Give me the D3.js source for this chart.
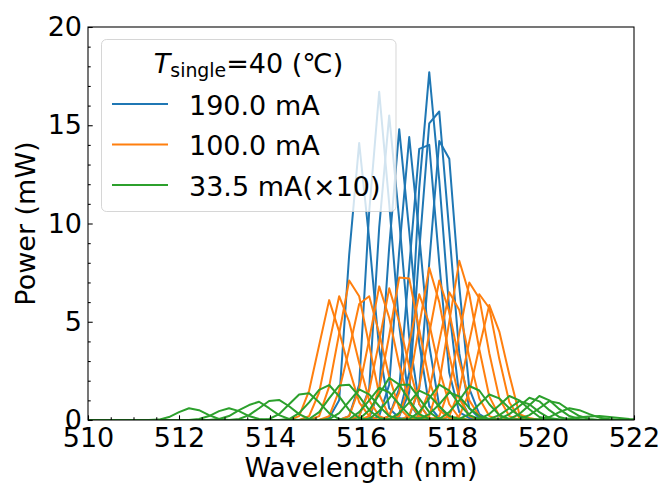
<!DOCTYPE html>
<html>
<head>
<meta charset="utf-8">
<script src="https://cdn.jsdelivr.net/npm/d3@7"></script>
<style>
  html, body { margin: 0; padding: 0; background: #fff; }
  svg { display: block; font-family: "DejaVu Sans", sans-serif; }
</style>
</head>
<body>
<svg id="chart" width="662" height="484"></svg>
<script>
// Sampling grid of the spectrometer (nm)
const wavelengthGrid = [
  510.02, 510.24, 510.46, 510.68, 510.90, 511.12, 511.34, 511.56, 511.78, 512.00,
  512.22, 512.44, 512.66, 512.88, 513.10, 513.32, 513.54, 513.76, 513.98, 514.20,
  514.42, 514.64, 514.86, 515.08, 515.30, 515.52, 515.74, 515.96, 516.18, 516.40,
  516.62, 516.84, 517.06, 517.28, 517.50, 517.72, 517.94, 518.16, 518.38, 518.60,
  518.82, 519.04, 519.26, 519.48, 519.70, 519.92, 520.14, 520.36, 520.58, 520.80,
  521.02, 521.24, 521.46, 521.68, 521.90, 522.12
];

// Each spectrum: first grid index with signal, then power (mW) from there on; zero elsewhere
const spectra190mA = [
  { from: 24, mw: [0.1, 1.0, 8.4, 14.1, 9.2, 3.6, 0.6, 0.1] },
  { from: 26, mw: [0.2, 1.8, 10.6, 16.7, 11.0, 4.8, 0.9, 0.1] },
  { from: 27, mw: [0.2, 1.6, 9.8, 15.5, 10.2, 4.2, 0.8, 0.1] },
  { from: 28, mw: [0.1, 1.5, 8.8, 14.8, 9.6, 3.9, 0.7, 0.1] },
  { from: 29, mw: [0.2, 1.8, 8.6, 14.4, 9.4, 3.8, 0.7, 0.1] },
  { from: 30, mw: [0.2, 1.6, 7.8, 13.8, 14.0, 8.0, 2.4, 0.4, 0.1] },
  { from: 31, mw: [0.3, 2.4, 11.8, 17.7, 12.2, 5.6, 1.2, 0.2] },
  { from: 31, mw: [0.2, 1.4, 8.6, 15.1, 15.7, 9.6, 3.4, 0.6, 0.1] },
  { from: 32, mw: [0.2, 1.6, 8.0, 14.2, 13.3, 6.8, 1.6, 0.3] }
];

const spectra100mA = [
  { from: 21, mw: [0.2, 1.5, 3.8, 6.1, 4.5, 2.6, 0.9, 0.2] },
  { from: 22, mw: [0.2, 1.4, 3.9, 6.3, 5.0, 2.9, 1.0, 0.2] },
  { from: 23, mw: [0.2, 1.7, 4.4, 7.1, 6.3, 3.8, 1.3, 0.2] },
  { from: 24, mw: [0.2, 1.5, 3.6, 5.9, 6.3, 4.4, 2.2, 0.6, 0.1] },
  { from: 26, mw: [0.2, 1.6, 4.1, 6.8, 5.2, 2.8, 0.9, 0.2] },
  { from: 27, mw: [0.2, 1.5, 4.0, 6.7, 5.0, 2.7, 0.8, 0.1] },
  { from: 28, mw: [0.2, 1.6, 4.3, 7.25, 7.2, 4.6, 2.0, 0.5, 0.1] },
  { from: 30, mw: [0.2, 1.4, 3.9, 6.4, 4.9, 2.6, 0.8, 0.1] },
  { from: 31, mw: [0.2, 1.8, 4.8, 7.75, 6.0, 3.3, 1.1, 0.2] },
  { from: 32, mw: [0.2, 1.7, 4.4, 7.1, 5.5, 3.0, 1.0, 0.2] },
  { from: 33, mw: [0.2, 1.5, 4.0, 6.5, 5.6, 3.2, 1.1, 0.2] },
  { from: 34, mw: [0.2, 1.9, 5.0, 8.1, 6.4, 3.6, 1.2, 0.2] },
  { from: 35, mw: [0.2, 1.6, 4.4, 7.0, 6.2, 3.4, 1.1, 0.2] },
  { from: 36, mw: [0.2, 1.5, 4.0, 6.4, 5.7, 3.1, 0.9, 0.1] },
  { from: 37, mw: [0.2, 1.4, 3.7, 5.85, 4.5, 2.3, 0.3, 0.1] }
];

// Values already multiplied by 10
const spectra33mA = [
  { from: 7,  mw: [0.02, 0.15, 0.4, 0.6, 0.5, 0.25, 0.05] },
  { from: 11, mw: [0.05, 0.2, 0.45, 0.6, 0.45, 0.2, 0.05] },
  { from: 13, mw: [0.05, 0.2, 0.5, 0.76, 0.93, 0.6, 0.25, 0.05] },
  { from: 15, mw: [0.05, 0.25, 0.6, 0.97, 1.02, 0.7, 0.3, 0.05] },
  { from: 18, mw: [0.05, 0.3, 0.8, 1.3, 1.36, 0.9, 0.35, 0.05] },
  { from: 20, mw: [0.05, 0.35, 0.9, 1.53, 1.78, 1.2, 0.5, 0.1] },
  { from: 22, mw: [0.05, 0.4, 1.1, 1.75, 1.8, 1.2, 0.5, 0.1] },
  { from: 24, mw: [0.05, 0.35, 0.95, 1.56, 1.3, 0.7, 0.2, 0.05] },
  { from: 26, mw: [0.05, 0.4, 1.0, 1.64, 1.4, 0.8, 0.25, 0.05] },
  { from: 27, mw: [0.05, 0.5, 1.3, 2.15, 1.8, 1.0, 0.3, 0.05] },
  { from: 28, mw: [0.05, 0.45, 1.1, 1.8, 1.8, 1.1, 0.4, 0.05] },
  { from: 30, mw: [0.05, 0.35, 0.9, 1.5, 1.25, 0.7, 0.2, 0.05] },
  { from: 32, mw: [0.05, 0.4, 1.1, 1.8, 1.5, 0.8, 0.25, 0.05] },
  { from: 33, mw: [0.05, 0.3, 0.8, 1.4, 1.2, 0.6, 0.2, 0.05] },
  { from: 35, mw: [0.05, 0.4, 1.0, 1.73, 1.5, 0.8, 0.25, 0.05] },
  { from: 37, mw: [0.05, 0.3, 0.8, 1.3, 1.1, 0.6, 0.2, 0.05] },
  { from: 39, mw: [0.05, 0.3, 0.75, 1.22, 1.0, 0.55, 0.15, 0.05] },
  { from: 40, mw: [0.05, 0.25, 0.6, 0.96, 0.8, 0.4, 0.1, 0.03] },
  { from: 41, mw: [0.05, 0.3, 0.7, 1.13, 0.95, 0.5, 0.15, 0.03] },
  { from: 42, mw: [0.05, 0.3, 0.75, 1.22, 1.0, 0.55, 0.2, 0.05] },
  { from: 43, mw: [0.05, 0.25, 0.6, 0.96, 0.85, 0.5, 0.2, 0.05] },
  { from: 45, mw: [0.05, 0.15, 0.4, 0.6, 0.5, 0.3, 0.12, 0.05] },
  { from: 47, mw: [0.03, 0.08, 0.14, 0.18, 0.2, 0.15, 0.1, 0.05, 0.02] }
];

const seriesLabels = ["190.0 mA", "100.0 mA", "33.5 mA(\u00d710)"];
const seriesColors = ["#1f77b4", "#ff7f0e", "#2ca02c"];
const xMajorTicks = [510, 512, 514, 516, 518, 520, 522];
const yMajorTicks = [0, 5, 10, 15, 20];

const W = 662, H = 484;
const m = { left: 88, right: 28, top: 27, bottom: 64 };
const FS = 27;

const svg = d3.select("#chart");
const x = d3.scaleLinear().domain([510, 522]).range([m.left, W - m.right]);
const y = d3.scaleLinear().domain([0, 20]).range([H - m.bottom, m.top]);

svg.append("defs").append("clipPath").attr("id", "plotClip")
  .append("rect")
  .attr("x", x(510)).attr("y", y(20))
  .attr("width", x(522) - x(510)).attr("height", y(0) - y(20));

// Expand a spectrum onto the full grid
function toPoints(s) {
  return wavelengthGrid.map((w, i) => ({
    w,
    p: (i >= s.from && i < s.from + s.mw.length) ? s.mw[i - s.from] : 0
  }));
}

const line = d3.line().x(d => x(d.w)).y(d => y(d.p));

const plot = svg.append("g").attr("clip-path", "url(#plotClip)");
[spectra190mA, spectra100mA, spectra33mA].forEach((group, gi) => {
  plot.append("g")
    .selectAll("path")
    .data(group)
    .join("path")
    .attr("d", s => line(toPoints(s)))
    .attr("fill", "none")
    .attr("stroke", seriesColors[gi])
    .attr("stroke-width", 2)
    .attr("stroke-linejoin", "round");
});

// Axes with inward ticks
const xMinor = d3.range(0, 25).map(i => 510 + i * 0.5).filter(v => !xMajorTicks.includes(v));
const yMinor = d3.range(0, 21).filter(v => !yMajorTicks.includes(v));

const gx = svg.append("g").attr("transform", `translate(0,${y(0)})`)
  .call(d3.axisBottom(x).tickValues(xMajorTicks).tickFormat(d3.format("d"))
    .tickSizeInner(-4.7).tickSizeOuter(0).tickPadding(8));
svg.append("g").attr("transform", `translate(0,${y(0)})`)
  .call(d3.axisBottom(x).tickValues(xMinor).tickFormat("")
    .tickSizeInner(-2.7).tickSizeOuter(0))
  .call(g => g.select(".domain").remove());

const gy = svg.append("g").attr("transform", `translate(${x(510)},0)`)
  .call(d3.axisLeft(y).tickValues(yMajorTicks).tickFormat(d3.format("d"))
    .tickSizeInner(-4.7).tickSizeOuter(0).tickPadding(6));
svg.append("g").attr("transform", `translate(${x(510)},0)`)
  .call(d3.axisLeft(y).tickValues(yMinor).tickFormat("")
    .tickSizeInner(-2.7).tickSizeOuter(0))
  .call(g => g.select(".domain").remove());

svg.selectAll(".tick line").attr("stroke", "#000").attr("stroke-width", 1.07);
svg.selectAll(".domain").remove();
[gx, gy].forEach(g => g.selectAll(".tick text")
  .attr("font-size", FS).attr("font-family", "DejaVu Sans").attr("fill", "#000"));

// Frame
svg.append("rect")
  .attr("x", x(510)).attr("y", y(20))
  .attr("width", x(522) - x(510)).attr("height", y(0) - y(20))
  .attr("fill", "none").attr("stroke", "#000").attr("stroke-width", 1.07);

// Axis titles
svg.append("text")
  .attr("x", (x(510) + x(522)) / 2).attr("y", 477)
  .attr("text-anchor", "middle").attr("font-size", FS)
  .text("Wavelength (nm)");
svg.append("text")
  .attr("transform", `translate(35,${(y(0) + y(20)) / 2}) rotate(-90)`)
  .attr("text-anchor", "middle").attr("font-size", FS)
  .text("Power (mW)");

// Legend
const lg = svg.append("g");
lg.append("rect")
  .attr("x", 101.5).attr("y", 39.5).attr("width", 294.5).attr("height", 172)
  .attr("rx", 5).attr("ry", 5)
  .attr("fill", "#fff").attr("fill-opacity", 0.8)
  .attr("stroke", "#ccc").attr("stroke-opacity", 0.8).attr("stroke-width", 1);

const title = lg.append("text")
  .attr("x", 248.5).attr("y", 73)
  .attr("text-anchor", "middle").attr("font-size", FS);
title.append("tspan").attr("font-style", "italic").text("T");
title.append("tspan").attr("font-size", FS * 0.7).attr("dy", 3.5).text("single");
title.append("tspan").attr("dy", -3.5).text("=40 (\u2103)");

const rowsY = [104, 144.5, 185];
seriesLabels.forEach((label, i) => {
  lg.append("line")
    .attr("x1", 112).attr("x2", 168)
    .attr("y1", rowsY[i]).attr("y2", rowsY[i])
    .attr("stroke", seriesColors[i]).attr("stroke-width", 2);
  lg.append("text")
    .attr("x", 189).attr("y", rowsY[i] + 10.5)
    .attr("font-size", FS)
    .text(label);
});
</script>
</body>
</html>
